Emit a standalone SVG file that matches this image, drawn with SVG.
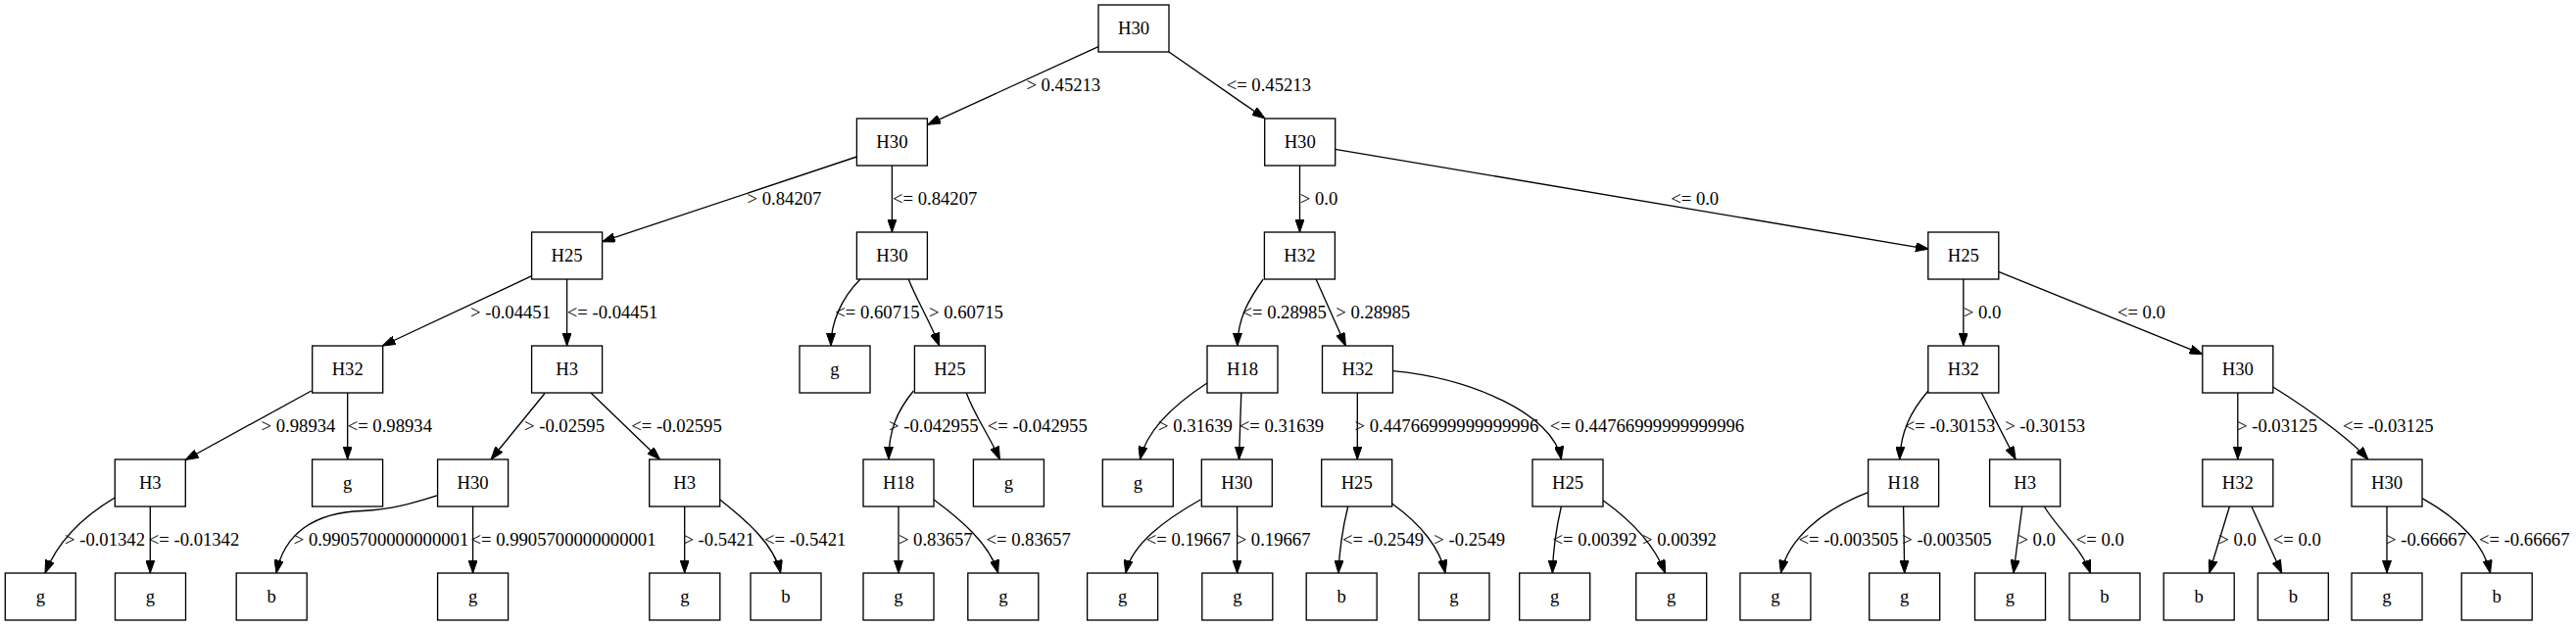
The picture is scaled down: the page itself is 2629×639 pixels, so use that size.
<svg xmlns="http://www.w3.org/2000/svg" width="2629" height="639" viewBox="0 0 2629 639">
<style>
.n rect{fill:#fff;stroke:#000;stroke-width:1.33}
text{font-family:"Liberation Serif",Times,serif;font-size:18.67px;fill:#000;text-anchor:middle}
.e path{fill:none;stroke:#000;stroke-width:1.33;marker-end:url(#arr)}
</style>
<defs>
<marker id="arr" markerUnits="userSpaceOnUse" viewBox="0 0 13.33 9.33" markerWidth="13.33" markerHeight="9.33" refX="13.33" refY="4.665" orient="auto">
<path d="M0,0 L13.33,4.665 L0,9.33 Z" fill="#000" stroke="#000" stroke-width="1"/>
</marker>
</defs>
<rect width="2629" height="639" fill="#fff"/>
<g id="edges" class="e">
<path d="M1121,47.7 L946.6,127.3"/>
<path d="M1193,53 L1291,121"/>
<path d="M874.4,160 L614.5,246.7"/>
<path d="M910.4,169 L910.4,237"/>
<path d="M1326.5,169 L1326.5,237"/>
<path d="M1362.5,152.3 L1968.3,254.3"/>
<path d="M542.7,281.7 L390.3,353"/>
<path d="M578.6,285 L578.6,353"/>
<path d="M878,285 C858,305 848,330 848,353"/>
<path d="M927.2,285 C935,305 950,330 958.7,353"/>
<path d="M1289.2,285 C1275,305 1263,325 1262.9,353"/>
<path d="M1343.1,285 L1373.4,353"/>
<path d="M2003.8,285 L2003.8,353"/>
<path d="M2039.7,277.3 L2248,361.7"/>
<path d="M317.7,399 L189.2,469.5"/>
<path d="M354.7,401 L354.7,469"/>
<path d="M556,401.5 L501,469"/>
<path d="M603,401 L673.5,469"/>
<path d="M932.3,399 C915,420 907,440 907,469"/>
<path d="M986.2,401 C995,425 1010,445 1020.4,469"/>
<path d="M1232,391 C1195,415 1170,440 1163.5,469"/>
<path d="M1266.8,401 L1264.5,469"/>
<path d="M1385.3,401 L1385.3,469"/>
<path d="M1421.5,378.7 C1500,386 1585,422 1593.4,469"/>
<path d="M1967.9,399 C1950,420 1940,440 1938.7,469"/>
<path d="M2022.3,401 L2057.1,469"/>
<path d="M2283.8,401 L2283.8,469"/>
<path d="M2319.8,395 C2360,420 2400,450 2416.9,469"/>
<path d="M117.7,507.7 C80,530 58,555 46,585"/>
<path d="M153.3,517 L153.3,585"/>
<path d="M446.7,505.7 C420,514 400,520 370,521.5 C320,523 290,545 282,585"/>
<path d="M482.6,517 L482.6,585"/>
<path d="M698.7,517 L698.7,585"/>
<path d="M734.7,510 C760,530 790,555 796.7,585"/>
<path d="M917,517 L917,585"/>
<path d="M953,510 C980,530 1010,555 1018.7,585"/>
<path d="M1225.3,510 C1190,530 1155,555 1148.9,585"/>
<path d="M1262.6,517 L1262.6,585"/>
<path d="M1375.7,517 C1370,540 1367,560 1366,585"/>
<path d="M1420.6,514 C1450,535 1470,560 1475,585"/>
<path d="M1593.4,517 C1588,540 1585,560 1584.4,585"/>
<path d="M1636,510.7 C1670,535 1690,560 1699.5,585"/>
<path d="M1906.7,502.7 C1860,520 1825,550 1817.5,585"/>
<path d="M1942.6,517 L1943.7,585"/>
<path d="M2063.8,517 L2054.9,585"/>
<path d="M2086.3,517 C2100,540 2125,560 2133.4,585"/>
<path d="M2275.4,517 L2254.7,585"/>
<path d="M2297.9,517 L2328.7,585"/>
<path d="M2436,517 L2436,585"/>
<path d="M2472,508.7 C2510,530 2535,555 2541.5,585"/>
</g>
<g id="edge-labels">
<text x="1085.3" y="92.5">&gt; 0.45213</text>
<text x="1294.8" y="92.5">&lt;= 0.45213</text>
<text x="800.5" y="208.5">&gt; 0.84207</text>
<text x="954.2" y="208.5">&lt;= 0.84207</text>
<text x="1346" y="208.5">&gt; 0.0</text>
<text x="1729.7" y="208.5">&lt;= 0.0</text>
<text x="521" y="324.5">&gt; -0.04451</text>
<text x="625" y="324.5">&lt;= -0.04451</text>
<text x="895.5" y="324.5">&lt;= 0.60715</text>
<text x="985.9" y="324.5">&gt; 0.60715</text>
<text x="1310.6" y="324.5">&lt;= 0.28985</text>
<text x="1401.2" y="324.5">&gt; 0.28985</text>
<text x="2023" y="324.5">&gt; 0.0</text>
<text x="2185.4" y="324.5">&lt;= 0.0</text>
<text x="304.5" y="440.5">&gt; 0.98934</text>
<text x="397.8" y="440.5">&lt;= 0.98934</text>
<text x="576" y="440.5">&gt; -0.02595</text>
<text x="690.5" y="440.5">&lt;= -0.02595</text>
<text x="952.8" y="440.5">&gt; -0.042955</text>
<text x="1058.8" y="440.5">&lt;= -0.042955</text>
<text x="1219.9" y="440.5">&gt; 0.31639</text>
<text x="1308" y="440.5">&lt;= 0.31639</text>
<text x="1476.4" y="440.5">&gt; 0.44766999999999996</text>
<text x="1681" y="440.5">&lt;= 0.44766999999999996</text>
<text x="1990" y="440.5">&lt;= -0.30153</text>
<text x="2087.2" y="440.5">&gt; -0.30153</text>
<text x="2324" y="440.5">&gt; -0.03125</text>
<text x="2437.3" y="440.5">&lt;= -0.03125</text>
<text x="107" y="556.5">&gt; -0.01342</text>
<text x="198" y="556.5">&lt;= -0.01342</text>
<text x="389" y="556.5">&gt; 0.9905700000000001</text>
<text x="575" y="556.5">&lt;= 0.9905700000000001</text>
<text x="733.8" y="556.5">&gt; -0.5421</text>
<text x="821.7" y="556.5">&lt;= -0.5421</text>
<text x="954.8" y="556.5">&gt; 0.83657</text>
<text x="1049.6" y="556.5">&lt;= 0.83657</text>
<text x="1212.9" y="556.5">&lt;= 0.19667</text>
<text x="1299.6" y="556.5">&gt; 0.19667</text>
<text x="1411.6" y="556.5">&lt;= -0.2549</text>
<text x="1499.7" y="556.5">&gt; -0.2549</text>
<text x="1627.7" y="556.5">&lt;= 0.00392</text>
<text x="1714" y="556.5">&gt; 0.00392</text>
<text x="1886.5" y="556.5">&lt;= -0.003505</text>
<text x="1987" y="556.5">&gt; -0.003505</text>
<text x="2078.7" y="556.5">&gt; 0.0</text>
<text x="2143.3" y="556.5">&lt;= 0.0</text>
<text x="2283.5" y="556.5">&gt; 0.0</text>
<text x="2344.3" y="556.5">&lt;= 0.0</text>
<text x="2476" y="556.5">&gt; -0.66667</text>
<text x="2576.2" y="556.5">&lt;= -0.66667</text>
</g>
<g id="n0" class="n"><rect x="1121" y="5" width="72" height="48"/><text x="1157" y="34.5">H30</text></g>
<g id="n1" class="n"><rect x="874.4" y="121" width="72" height="48"/><text x="910.4" y="150.5">H30</text></g>
<g id="n2" class="n"><rect x="1290.7" y="121" width="72" height="48"/><text x="1326.7" y="150.5">H30</text></g>
<g id="n3" class="n"><rect x="542.6" y="237" width="72" height="48"/><text x="578.6" y="266.5">H25</text></g>
<g id="n4" class="n"><rect x="874.4" y="237" width="72" height="48"/><text x="910.4" y="266.5">H30</text></g>
<g id="n5" class="n"><rect x="1290.4" y="237" width="72" height="48"/><text x="1326.4" y="266.5">H32</text></g>
<g id="n6" class="n"><rect x="1967.8" y="237" width="72" height="48"/><text x="2003.8" y="266.5">H25</text></g>
<g id="n7" class="n"><rect x="318.7" y="353" width="72" height="48"/><text x="354.7" y="382.5">H32</text></g>
<g id="n8" class="n"><rect x="542.6" y="353" width="72" height="48"/><text x="578.6" y="382.5">H3</text></g>
<g id="n9" class="n"><rect x="816" y="353" width="72" height="48"/><text x="852" y="382.5">g</text></g>
<g id="n10" class="n"><rect x="933.4" y="353" width="72" height="48"/><text x="969.4" y="382.5">H25</text></g>
<g id="n11" class="n"><rect x="1232" y="353" width="72" height="48"/><text x="1268" y="382.5">H18</text></g>
<g id="n12" class="n"><rect x="1349.5" y="353" width="72" height="48"/><text x="1385.5" y="382.5">H32</text></g>
<g id="n13" class="n"><rect x="1967.8" y="353" width="72" height="48"/><text x="2003.8" y="382.5">H32</text></g>
<g id="n14" class="n"><rect x="2247.8" y="353" width="72" height="48"/><text x="2283.8" y="382.5">H30</text></g>
<g id="n15" class="n"><rect x="117.3" y="469" width="72" height="48"/><text x="153.3" y="498.5">H3</text></g>
<g id="n16" class="n"><rect x="318.6" y="469" width="72" height="48"/><text x="354.6" y="498.5">g</text></g>
<g id="n17" class="n"><rect x="446.6" y="469" width="72" height="48"/><text x="482.6" y="498.5">H30</text></g>
<g id="n18" class="n"><rect x="662.7" y="469" width="72" height="48"/><text x="698.7" y="498.5">H3</text></g>
<g id="n19" class="n"><rect x="881" y="469" width="72" height="48"/><text x="917" y="498.5">H18</text></g>
<g id="n20" class="n"><rect x="993.4" y="469" width="72" height="48"/><text x="1029.4" y="498.5">g</text></g>
<g id="n21" class="n"><rect x="1125.3" y="469" width="72" height="48"/><text x="1161.3" y="498.5">g</text></g>
<g id="n22" class="n"><rect x="1226.3" y="469" width="72" height="48"/><text x="1262.3" y="498.5">H30</text></g>
<g id="n23" class="n"><rect x="1348.7" y="469" width="72" height="48"/><text x="1384.7" y="498.5">H25</text></g>
<g id="n24" class="n"><rect x="1564" y="469" width="72" height="48"/><text x="1600" y="498.5">H25</text></g>
<g id="n25" class="n"><rect x="1906.6" y="469" width="72" height="48"/><text x="1942.6" y="498.5">H18</text></g>
<g id="n26" class="n"><rect x="2030.6" y="469" width="72" height="48"/><text x="2066.6" y="498.5">H3</text></g>
<g id="n27" class="n"><rect x="2247.8" y="469" width="72" height="48"/><text x="2283.8" y="498.5">H32</text></g>
<g id="n28" class="n"><rect x="2400" y="469" width="72" height="48"/><text x="2436" y="498.5">H30</text></g>
<g id="n29" class="n"><rect x="5.3" y="585" width="72" height="48"/><text x="41.3" y="614.5">g</text></g>
<g id="n30" class="n"><rect x="117.5" y="585" width="72" height="48"/><text x="153.5" y="614.5">g</text></g>
<g id="n31" class="n"><rect x="241.2" y="585" width="72" height="48"/><text x="277.2" y="614.5">b</text></g>
<g id="n32" class="n"><rect x="446.6" y="585" width="72" height="48"/><text x="482.6" y="614.5">g</text></g>
<g id="n33" class="n"><rect x="662.8" y="585" width="72" height="48"/><text x="698.8" y="614.5">g</text></g>
<g id="n34" class="n"><rect x="766" y="585" width="72" height="48"/><text x="802" y="614.5">b</text></g>
<g id="n35" class="n"><rect x="881" y="585" width="72" height="48"/><text x="917" y="614.5">g</text></g>
<g id="n36" class="n"><rect x="987.8" y="585" width="72" height="48"/><text x="1023.8" y="614.5">g</text></g>
<g id="n37" class="n"><rect x="1109.6" y="585" width="72" height="48"/><text x="1145.6" y="614.5">g</text></g>
<g id="n38" class="n"><rect x="1226.8" y="585" width="72" height="48"/><text x="1262.8" y="614.5">g</text></g>
<g id="n39" class="n"><rect x="1333.2" y="585" width="72" height="48"/><text x="1369.2" y="614.5">b</text></g>
<g id="n40" class="n"><rect x="1448" y="585" width="72" height="48"/><text x="1484" y="614.5">g</text></g>
<g id="n41" class="n"><rect x="1550.7" y="585" width="72" height="48"/><text x="1586.7" y="614.5">g</text></g>
<g id="n42" class="n"><rect x="1669.7" y="585" width="72" height="48"/><text x="1705.7" y="614.5">g</text></g>
<g id="n43" class="n"><rect x="1775.9" y="585" width="72" height="48"/><text x="1811.9" y="614.5">g</text></g>
<g id="n44" class="n"><rect x="1907.7" y="585" width="72" height="48"/><text x="1943.7" y="614.5">g</text></g>
<g id="n45" class="n"><rect x="2015.5" y="585" width="72" height="48"/><text x="2051.5" y="614.5">g</text></g>
<g id="n46" class="n"><rect x="2112" y="585" width="72" height="48"/><text x="2148" y="614.5">b</text></g>
<g id="n47" class="n"><rect x="2208.2" y="585" width="72" height="48"/><text x="2244.2" y="614.5">b</text></g>
<g id="n48" class="n"><rect x="2304.3" y="585" width="72" height="48"/><text x="2340.3" y="614.5">b</text></g>
<g id="n49" class="n"><rect x="2400" y="585" width="72" height="48"/><text x="2436" y="614.5">g</text></g>
<g id="n50" class="n"><rect x="2512.2" y="585" width="72" height="48"/><text x="2548.2" y="614.5">b</text></g>
</svg>
